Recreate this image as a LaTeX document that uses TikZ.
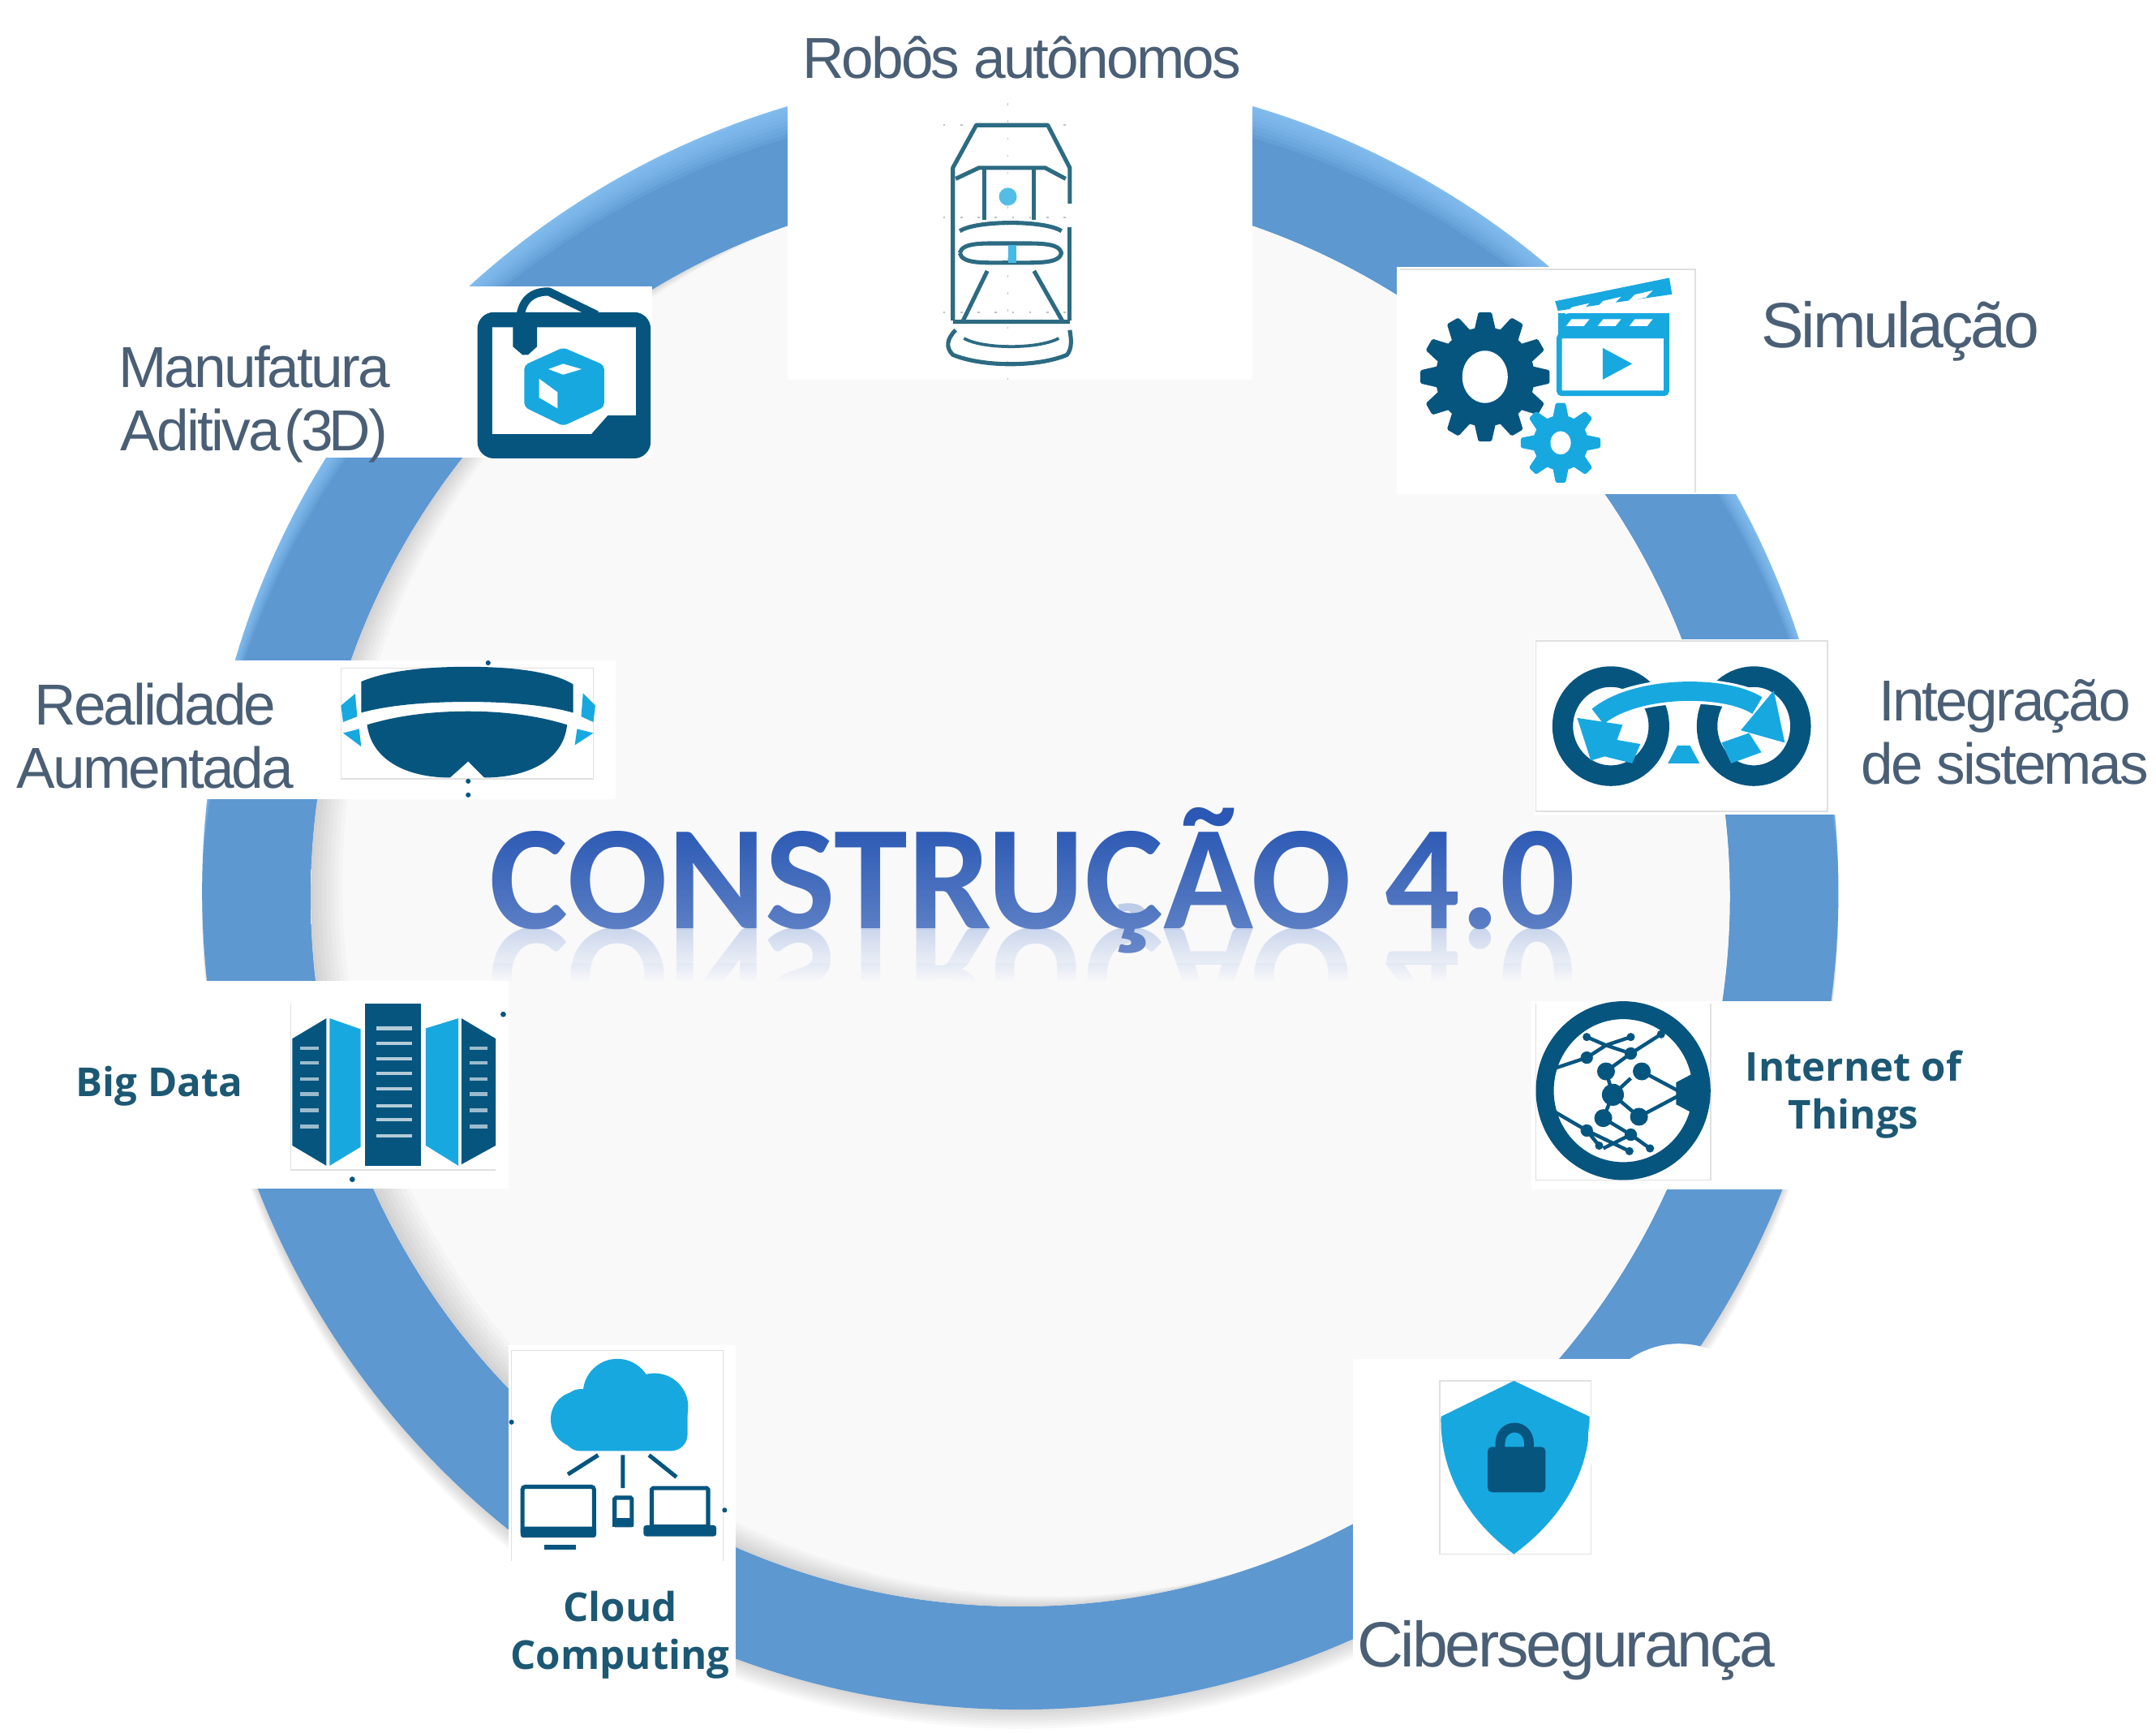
\documentclass[tikz,border=0pt]{standalone}
\usepackage{fontspec}
\usepackage{tikz}
\usetikzlibrary{fadings}
\setmainfont{Liberation Sans}
\newfontfamily\labelFont[LetterSpace=-4]{Liberation Sans}
\newfontfamily\boldFont{Open Sans}
\newfontfamily\titleFont{Carlito}
\definecolor{ringBlue}{RGB}{93, 152, 209}
\definecolor{ringLight}{RGB}{150, 208, 255}
\definecolor{discGrey}{RGB}{249, 249, 250}
\definecolor{iconDark}{RGB}{5, 85, 127}
\definecolor{iconLight}{RGB}{24, 168, 224}
\definecolor{carLine}{RGB}{44, 107, 130}
\definecolor{labelGrey}{RGB}{74, 95, 117}
\definecolor{boldTeal}{RGB}{28, 88, 116}
\definecolor{titleBlue}{RGB}{42, 88, 180}
\definecolor{titleGlow}{RGB}{176, 194, 230}
\pgfdeclareradialshading{discGlow}{\pgfpoint{0bp}{0bp}}{
    color(0bp)=(discGrey); color(41bp)=(discGrey); color(48bp)=(white); color(50bp)=(white)
}
\tikzfading[name=titleFade, top color=transparent!100, bottom color=transparent!68]
\tikzfading[name=glowFade, top color=transparent!80, bottom color=transparent!0]
\tikzset{
    white_panel/.style={fill=white},
    icon_frame/.style={draw=black!12, line width=0.9pt},
    label_text/.style={
        font=\labelFont\fontsize{42}{46}\selectfont,
        text=labelGrey,
        align=center,
        inner sep=0pt
    },
    label_large/.style={
        label_text,
        font=\labelFont\fontsize{46.5}{50}\selectfont
    },
    bold_text/.style={
        font=\boldFont\bfseries\fontsize{29}{35}\selectfont,
        text=boldTeal,
        align=center,
        inner sep=0pt
    },
    title_text/.style={
        font=\titleFont\bfseries\fontsize{108}{112}\selectfont,
        inner sep=0pt,
        anchor=base
    },
    dark_line/.style={draw=iconDark, line width=3pt},
    car_line/.style={draw=carLine, line width=3pt, line join=round},
    guide_dots/.style={draw=black!25, line width=1pt, dash pattern=on 1.5pt off 11pt},
    stray_dot/.style={fill=iconDark}
}
\newcommand{\gearIcon}[8]{
    \fill[#8] (#1,#2) circle (#3);
    \foreach \a in {1,...,#6}
        \fill[#8, rotate around={\a*360/#6:(#1,#2)}, rounded corners=1pt]
            (#1-#5,#2-#3+3) -- (#1-#5*.6,#2-#3-#4) -- (#1+#5*.6,#2-#3-#4) -- (#1+#5,#2-#3+3) -- cycle;
    \fill[white] (#1,#2) ellipse (#7*.87 and #7);
}
\begin{document}
\begin{tikzpicture}[x=1pt,y=-1pt]
    \useasboundingbox (0,0) rectangle (1568,1259.6);

    \foreach \d in {2,4,...,14}
        \fill[black, opacity=.025] (742,648+\d) circle (595);
    \fill[ringBlue] (742,648) circle (595);
    \begin{scope}
        \clip (742,648) circle (595);
        \foreach \d in {3,6,...,24}
            \fill[ringLight, opacity=.13, even odd rule] (742,648) circle (596) (742,648+\d) circle (596);
    \end{scope}
    \fill[white] (742,652) circle (516);
    \shade[shading=discGlow] (742,652) circle (516);
    \begin{scope}
        \clip (742,652) circle (516);
        \foreach \d in {3,6,...,24}
            \fill[black, opacity=.018, even odd rule] (742,652) circle (517) (742+\d,652-\d*.35) circle (517);
    \end{scope}

    \node[title_text, text=titleGlow, yscale=-1, transform shape] (titleMirror) at (751,675) {CONSTRUÇÃO 4.0};
    \fill[discGrey, path fading=glowFade] (345,676) rectangle (1160,714);
    \fill[discGrey] (345,714) rectangle (1160,770);
    \node[title_text, text=titleBlue] (title) at (751,675) {CONSTRUÇÃO 4.0};
    \fill[discGrey, path fading=titleFade] (345,598) rectangle (1160,700);

    \fill[white_panel] (573,0) rectangle (911,276);
    \fill[white_panel] (1016,194) rectangle (1400,359);
    \fill[white_panel] (1116,465) rectangle (1568,592);
    \fill[white_panel] (1114,728) rectangle (1430,865);
    \fill[white_panel] (984,988) rectangle (1320,1259.6);
    \fill[white_panel] (370,978) rectangle (535,1228);
    \fill[white_panel] (30,713) rectangle (370,864);
    \fill[white_panel] (4,480) rectangle (448,581);
    \fill[white_panel] (80,208) rectangle (474,333);

    \draw[guide_dots] (686,91) -- (782,91) (686,158) -- (782,158) (686,227) -- (782,227) (733,75) -- (733,276);
    \draw[car_line] (778,148) -- (778,122) -- (762,91) -- (710,91) -- (693,122) -- (693,233);
    \draw[car_line] (778,165) -- (778,233);
    \draw[car_line] (695,130) -- (712,122) -- (760,122) -- (775,130);
    \draw[car_line] (716,122) -- (716,160) (752,122) -- (752,160);
    \draw[car_line] (698,168) .. controls (710,160) and (760,160) .. (772,168);
    \draw[car_line] (698,184) .. controls (700,176) and (715,177) .. (733,177) .. controls (755,177) and (770,176) .. (772,184)
        .. controls (770,192) and (755,191) .. (733,191) .. controls (715,191) and (700,192) .. (698,184);
    \fill[iconLight!75] (733,143) circle (6.5);
    \fill[iconLight!80] (733.5,178) rectangle (739,191);
    \draw[car_line] (718,197) -- (700,234) (752,197) -- (773,234) (693,234) -- (778,234);
    \draw[car_line] (695,240) .. controls (688,247) and (688,253) .. (693,258) .. controls (715,267) and (755,267) .. (776,258)
        .. controls (780,253) and (779,246) .. (778,240);
    \draw[carLine, line width=2.2pt] (701,246) .. controls (715,254) and (755,254) .. (770,246);

    \draw[icon_frame] (1018,196) -- (1233,196) -- (1233,358);
    \gearIcon{1080}{274}{36}{11}{8}{12}{19}{iconDark}
    \gearIcon{1135}{322}{20}{9}{6}{8}{8.5}{iconLight}
    \fill[iconLight] (1131,219) -- (1214,202) -- (1216,214) -- (1133,226) -- cycle;
    \fill[iconLight] (1133,228) rectangle (1214,246);
    \draw[iconLight, line width=4pt, rounded corners=2pt] (1134,244) rectangle (1212,286);
    \foreach \x in {1143,1166,1189} {
        \fill[white] (\x,223-\x*.2+229) -- ++(13,-3) -- ++(-5,5) -- ++(-13,3) -- cycle;
        \fill[white] (\x,232) -- ++(13,0) -- ++(-4,5) -- ++(-13,0) -- cycle;
    }
    \fill[iconLight] (1165.6,253) -- (1187,264.5) -- (1165.6,276) -- cycle;

    \draw[icon_frame] (1117,466) rectangle (1329,590);
    \draw[iconDark, line width=15pt] (1171.5,528) ellipse (35 and 36);
    \draw[iconDark, line width=15pt] (1275.5,528) ellipse (34 and 36);
    \draw[white, line width=18pt] (1160,521) .. controls (1190,498) and (1255,498) .. (1282,514);
    \draw[iconLight, line width=14pt] (1162,521) .. controls (1190,498) and (1255,498) .. (1278,513);
    \fill[iconLight] (1290,502) -- (1298,540) -- (1266,531) -- cycle;
    \fill[iconLight] (1147,522) -- (1180,527) -- (1176,538) -- (1193,541) -- (1187,555) -- (1167,550) -- (1157,553) -- cycle;
    \fill[iconLight] (1252,540) -- (1272,533) -- (1281,547) -- (1259,555) -- cycle;
    \fill[iconLight] (1220,542) -- (1229,542) -- (1236,555) -- (1213,555) -- cycle;

    \draw[icon_frame] (1117,730) -- (1117,858) -- (1244,858) -- (1244,730);
    \draw[iconDark, line width=13pt] (1180.5,793) ellipse (57 and 58.5);
    \fill[iconDark] (1219,787) -- (1236,778) -- (1236,812) -- (1219,803) -- cycle;
    \draw[iconDark, line width=2.6pt]
        (1130,777) -- (1154,769) -- (1168,760) -- (1186,766) -- (1208,752)
        (1154,754) -- (1168,760) -- (1186,754)
        (1168,779) -- (1173,796) -- (1166,813)
        (1186,766) -- (1168,779)
        (1194,779) -- (1224,795) -- (1192,812) -- (1173,796) -- (1186,784)
        (1130,808) -- (1154,822) -- (1185,837)
        (1166,813) -- (1186,825) -- (1200,835)
        (1154,822) -- (1163,833)
        (1186,825) -- (1166,835);
    \foreach \x/\y/\r in {1173/796/8, 1168/779/6.5, 1194/779/6.5, 1166/813/6.5, 1192/812/6.5, 1154/769/4.5, 1186/766/4.5,
        1154/822/4.5, 1186/825/4.5, 1154/754/3, 1186/754/3, 1208/752/3, 1185/837/3, 1163/833/3, 1200/835/3}
        \fill[iconDark] (\x,\y) circle (\r);

    \draw[icon_frame] (1047,1004) rectangle (1157,1130);
    \fill[iconLight] (1101,1004) -- (1156,1030) .. controls (1157,1070) and (1135,1105) .. (1101,1130)
        .. controls (1067,1105) and (1047,1070) .. (1048,1030) -- cycle;
    \draw[iconDark, line width=7pt] (1091,1056) -- (1091,1050) .. controls (1091,1034) and (1112,1034) .. (1112,1050) -- (1112,1056);
    \fill[iconDark, rounded corners=3pt] (1082,1052) rectangle (1124,1085);
    \fill[white] (1221,1047) ellipse (66 and 70);

    \draw[icon_frame] (372,1135) -- (372,982) -- (526,982) -- (526,1135);
    \fill[iconLight] (449,1013) circle (25) (421,1032) circle (20.5) (476,1023) circle (24.5);
    \fill[iconLight, rounded corners=12pt] (410,1010) rectangle (500,1055);
    \draw[dark_line] (413,1072) -- (435,1058) (453,1058) -- (453,1082) (472,1058) -- (492,1074);
    \draw[dark_line, rounded corners=2pt] (380,1081) rectangle (432,1116);
    \fill[iconDark, rounded corners=2pt] (378.6,1110) rectangle (433.6,1118);
    \fill[iconDark] (396,1123) rectangle (419,1127);
    \draw[dark_line, rounded corners=1pt] (447,1089) rectangle (459.5,1109);
    \fill[iconDark] (445.4,1104) rectangle (461,1110);
    \draw[dark_line, rounded corners=1pt] (474,1082) rectangle (515,1110);
    \fill[iconDark, rounded corners=2pt] (468,1109) rectangle (521,1117);
    \fill[stray_dot] (372,1034) circle (1.8) (527,1098) circle (1.8);

    \draw[icon_frame] (211.5,730) -- (211.5,850.6) -- (360.5,850.6);
    \fill[iconDark] (265.6,730) rectangle (306.3,847.6);
    \foreach \y in {747.7,758.7,769.6,780.4,791.6,804,814.2,826}
        \draw[white!70!iconDark, line width=2.4pt] (273.6,\y) -- (299.5,\y);
    \fill[iconDark] (212.6,755.2) -- (237.4,740.4) -- (237.4,847.6) -- (212.6,832.9) -- cycle;
    \fill[iconLight] (239.7,740.4) -- (262.3,748.3) -- (262.3,833.9) -- (239.7,847.6) -- cycle;
    \fill[iconLight] (309.7,747.7) -- (333.4,740.4) -- (333.4,847.6) -- (309.7,832.9) -- cycle;
    \fill[iconDark] (335.6,740.4) -- (360.5,755.2) -- (360.5,832.9) -- (335.6,846.6) -- cycle;
    \foreach \y in {762,772.9,784.7,795.5,807.3,819.1}
        \draw[white!60!iconDark, line width=2.4pt] (218.2,\y) -- (231.8,\y) (341.3,\y) -- (354.8,\y);
    \fill[stray_dot] (366,737.5) circle (2) (256.2,857.5) circle (2);

    \draw[icon_frame] (248,485.8) rectangle (431.5,566.4);
    \fill[iconDark] (262.7,495.6) .. controls (285,486) and (320,484.8) .. (340.5,484.8) .. controls (365,484.8) and (400,487) .. (416.8,497.6)
        -- (416.8,518.2) .. controls (395,512) and (365,510.3) .. (340.5,510.3) .. controls (315,510.3) and (285,512) .. (262.7,518.2) -- cycle;
    \fill[iconDark] (267,527) .. controls (290,520) and (315,517.2) .. (340.5,517.2) .. controls (365,517.2) and (390,520) .. (412.4,527)
        .. controls (410,552) and (385,565.4) .. (352.2,565.4) -- (340.5,553.6) -- (327.3,565.4) .. controls (295,565.4) and (270,552) .. (267,527) -- cycle;
    \fill[iconLight] (248,513) -- (258.3,504.4) -- (259.8,521) -- (249.5,525) -- cycle;
    \fill[iconLight] (249.5,533) -- (261.2,530) -- (262.7,542.8) -- cycle;
    \fill[iconLight] (433,513) -- (424,504) -- (422.7,521) -- (431.5,525) -- cycle;
    \fill[iconLight] (431.5,533) -- (419.7,530) -- (418,541.8) -- cycle;
    \fill[stray_dot] (355,482) circle (1.8) (340.5,568) circle (1.8) (340.5,578) circle (1.8);

    \fill[iconDark, rounded corners=12pt] (347.2,227) rectangle (473.2,333.3);
    \fill[white] (358,238) -- (462.4,238) -- (462.4,302) -- (442,302) -- (430,315.6) -- (358,315.6) -- cycle;
    \draw[iconDark, line width=6pt, line join=round] (378,236) .. controls (378,217) and (388,212) .. (399,212) -- (434,229);
    \fill[iconDark] (373,236) -- (373,252) -- (380,258) -- (384,258) -- (390.6,252) -- (390.6,236) -- cycle;
    \fill[iconLight, rounded corners=3pt] (409.6,252.7) -- (439.4,265.5) -- (439.4,296) -- (409.6,309.7) -- (381.3,296) -- (381.3,265.5) -- cycle;
    \fill[white] (409.6,264.5) -- (423,268.4) -- (409.6,272.4) -- (398.8,268.4) -- cycle;
    \fill[white] (392,275.3) -- (405.5,285.2) -- (405.5,297) -- (392,289) -- cycle;

    \node[label_text] (robos) at (743,42) {Robôs autônomos};
    \node[label_large] (simulacao) at (1382,241) {Simulação};
    \node[label_text] (integracao) at (1458,532) {Integração\\de sistemas};
    \node[label_large] (ciberseg) at (1139,1200) {Cibersegurança};
    \node[label_text] (manufatura) at (185,294) {Manufatura\\Aditiva\kern-7pt\ (3\kern-3pt D)};
    \node[label_text] (realidade) at (113,535) {Realidade\\Aumentada};
    \node[bold_text] (bigdata) at (116,790) {Big Data};
    \node[bold_text] (iot) at (1348,796) {Internet of\\Things};
    \node[bold_text] (cloud) at (451,1189) {Cloud\\Computing};
\end{tikzpicture}
\end{document}
